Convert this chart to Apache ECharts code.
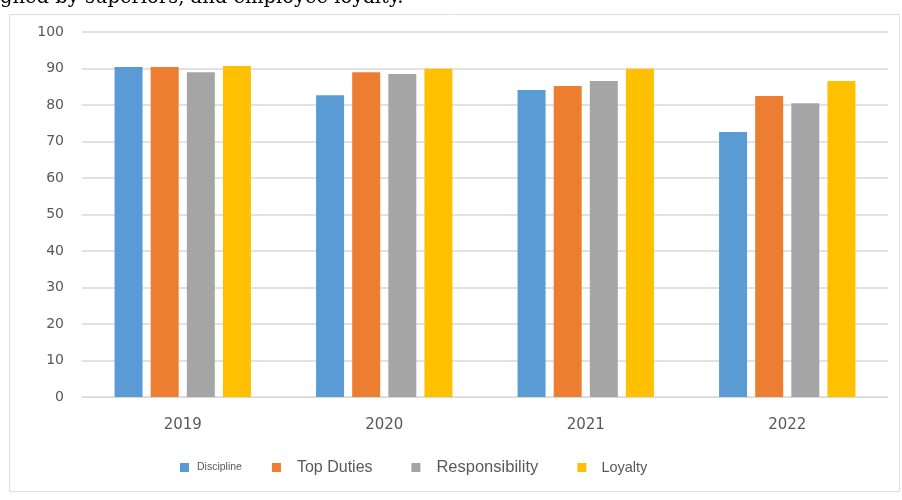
<!DOCTYPE html>
<html>
<head>
<meta charset="utf-8">
<script src="https://cdn.jsdelivr.net/npm/echarts@6/dist/echarts.min.js"></script>
<style>
  html, body { margin: 0; padding: 0; background: #fff; }
  #chart { width: 902px; height: 500px; }
</style>
</head>
<body>
<div id="chart"></div>
<script>
// data
var years = ['2019', '2020', '2021', '2022'];
var discipline = [90.4, 82.7, 84.1, 72.6];
var topDuties = [90.4, 89.0, 85.2, 82.5];
var responsibility = [89.0, 88.5, 86.6, 80.5];
var loyalty = [90.7, 89.9, 89.9, 86.6];
var seriesNames = ['Discipline', 'Top Duties', 'Responsibility', 'Loyalty'];
var colors = ['#5B9BD5', '#ED7D31', '#A5A5A5', '#FFC000'];

var chart = echarts.init(document.getElementById('chart'), null, { renderer: 'canvas' });

function bar(name, data) {
    return {
        name: name,
        type: 'bar',
        data: data,
        barWidth: 28,
        barGap: '29%'
    };
}

var option = {
    animation: false,
    color: colors,
    graphic: [
        {
            // frame round the chart
            type: 'rect',
            shape: { x: 9.5, y: 14.5, width: 890, height: 477 },
            style: { fill: 'none', stroke: '#dedede', lineWidth: 1 },
            z: -1
        },
        {
            // cut-off line of document text above the chart
            type: 'text',
            left: 0,
            top: -12,
            style: {
                text: 'gned by superiors, and employee loyalty.',
                font: '19.5px "DejaVu Serif", serif',
                fill: '#000'
            }
        }
    ],
    legend: {
        bottom: 19,
        left: 175,
        itemWidth: 9,
        itemHeight: 9,
        itemGap: 30,
        icon: 'rect',
        // a little extra room after the middle two labels
        formatter: function (name) {
            return (name === 'Top Duties' || name === 'Responsibility') ? name + '  ' : name;
        },
        textStyle: { color: '#595959', fontFamily: 'Liberation Sans, Arial, sans-serif' },
        data: [
            { name: 'Discipline', textStyle: { fontSize: 10.5, padding: [0, 0, 0, 3] } },
            { name: 'Top Duties', textStyle: { fontSize: 16, padding: [0, 0, 0, 11] } },
            { name: 'Responsibility', textStyle: { fontSize: 16.5, padding: [0, 0, 0, 11] } },
            { name: 'Loyalty', textStyle: { fontSize: 14.5, padding: [0, 0, 0, 10] } }
        ]
    },
    grid: {
        left: 82,
        right: 14,
        top: 32,
        bottom: 103
    },
    xAxis: {
        type: 'category',
        data: years,
        axisLine: { lineStyle: { color: '#d9d9d9' } },
        axisTick: { show: false },
        axisLabel: {
            color: '#595959',
            fontSize: 15,
            margin: 21,
            fontFamily: 'DejaVu Sans, sans-serif'
        }
    },
    yAxis: {
        type: 'value',
        min: 0,
        max: 100,
        interval: 10,
        axisLine: { show: false },
        axisTick: { show: false },
        splitLine: { lineStyle: { color: '#d9d9d9', width: 1.5 } },
        axisLabel: {
            color: '#595959',
            fontSize: 14,
            margin: 18,
            fontFamily: 'DejaVu Sans, sans-serif'
        }
    },
    series: [
        bar(seriesNames[0], discipline),
        bar(seriesNames[1], topDuties),
        bar(seriesNames[2], responsibility),
        bar(seriesNames[3], loyalty)
    ]
};

chart.setOption(option);
</script>
</body>
</html>
